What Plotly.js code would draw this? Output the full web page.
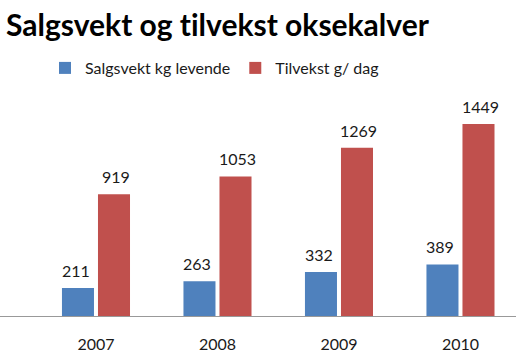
<!DOCTYPE html>
<html>
<head>
<meta charset="utf-8">
<script src="https://cdn.plot.ly/plotly-3.0.1.min.js"></script>
<style>html,body{margin:0;padding:0;background:#fff;}#chart{width:520px;height:358px;}svg text{font-variant-ligatures:none;font-feature-settings:"liga" 0;}</style>
</head>
<body>
<div id="chart"></div>
<script>
const categories = ['2007', '2008', '2009', '2010'];
const salgsvekt = [211, 263, 332, 389];
const tilvekst = [919, 1053, 1269, 1449];
const seriesNames = ['Salgsvekt kg levende', 'Tilvekst g/ dag'];
const titleText = 'Salgsvekt og tilvekst oksekalver';

const FONT = 'Lato, "Open Sans", sans-serif';
const colors = ['#4F81BD', '#C0504D'];
const TEXT = '#1a1a1a';

const traces = [salgsvekt, tilvekst].map((vals, i) => ({
  type: 'bar',
  name: seriesNames[i],
  x: categories,
  y: vals,
  marker: {color: colors[i]},
  hoverinfo: 'none'
}));

const annotations = [];
[salgsvekt, tilvekst].forEach((vals, s) => {
  vals.forEach((v, i) => {
    annotations.push({
      x: i, y: v, xref: 'x', yref: 'y',
      text: String(v), showarrow: false,
      xanchor: 'center', yanchor: 'middle',
      xshift: s === 0 ? -20 : 20, yshift: 17.5,
      font: {family: FONT, size: 16, color: TEXT}
    });
  });
});

const layout = {
  width: 520, height: 358,
  margin: {l: 0, r: 4, t: 104, b: 42, pad: 0},
  paper_bgcolor: '#fff', plot_bgcolor: '#fff',
  font: {family: FONT, size: 15, color: TEXT},
  title: {
    text: '<b>' + titleText + '</b>',
    font: {family: FONT, size: 30, color: '#000'},
    xref: 'container', yref: 'container',
    x: 6 / 520, xanchor: 'left',
    y: 1 - 25 / 358, yanchor: 'middle'
  },
  barmode: 'group',
  bargap: 0.407,
  bargroupgap: 0.111,
  showlegend: true,
  legend: {
    orientation: 'h',
    xref: 'container', yref: 'container',
    x: 45 / 520, xanchor: 'left',
    y: 1 - 68 / 358, yanchor: 'middle',
    font: {family: FONT, size: 16, color: TEXT},
    bgcolor: 'rgba(0,0,0,0)'
  },
  xaxis: {
    type: 'category',
    range: [-0.790, 3.457],
    showline: true, linecolor: '#999', linewidth: 1,
    ticks: '', showgrid: false, zeroline: false,
    tickfont: {family: FONT, size: 16, color: TEXT},
    ticklabelstandoff: 14,
    fixedrange: true
  },
  yaxis: {
    range: [0, 1600],
    visible: false,
    showgrid: false, zeroline: false,
    fixedrange: true
  },
  annotations: annotations
};

Plotly.newPlot('chart', traces, layout, {displayModeBar: false, staticPlot: true});
</script>
</body>
</html>
